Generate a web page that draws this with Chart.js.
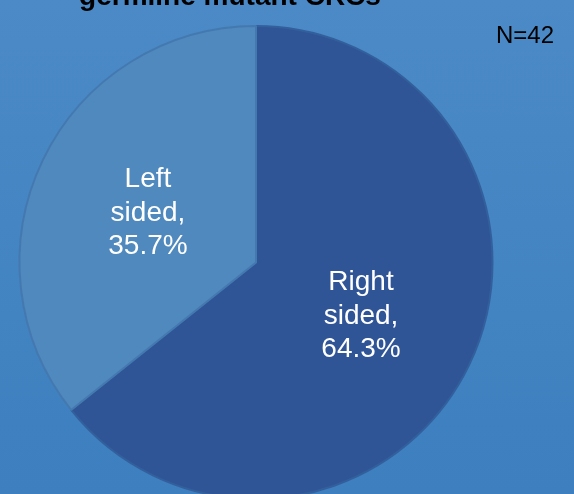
<!DOCTYPE html>
<html>
<head>
<meta charset="utf-8">
<script src="https://cdn.jsdelivr.net/npm/chart.js@4"></script>
<style>
  html, body { margin: 0; padding: 0; overflow: hidden; }
  body { width: 574px; height: 494px; background: linear-gradient(#4b8ac6, #3d7fbf); }
  #wrap { position: relative; width: 574px; height: 520px; }
</style>
</head>
<body>
<div id="wrap"><canvas id="myChart" width="574" height="520"></canvas></div>
<script>
const labels = ['Right sided', 'Left sided'];
const counts = [27, 15];
const percents = ['64.3%', '35.7%'];
const titleText = 'germline mutant CRCs';
const nText = 'N=42';

const ctx = document.getElementById('myChart').getContext('2d');

// draws the cut off title, the N label and the slice labels
const textPlugin = {
  id: 'textPlugin',
  afterDraw(chart) {
    const c = chart.ctx;
    c.save();
    c.fillStyle = '#000';
    c.textAlign = 'center';
    c.textBaseline = 'alphabetic';
    c.font = 'bold 28px "Liberation Sans", Arial, sans-serif';
    c.fillText(titleText, 230, 5);
    c.textAlign = 'left';
    c.font = '24px "Liberation Sans", Arial, sans-serif';
    c.fillText(nText, 496, 43);

    c.fillStyle = '#fff';
    c.textAlign = 'center';
    c.textBaseline = 'middle';
    c.font = '28px "Liberation Sans", Arial, sans-serif';
    const meta = chart.getDatasetMeta(0);
    meta.data.forEach((arc, i) => {
      const p = arc.getCenterPoint();
      const words = labels[i].split(' ');
      const lines = [words[0], words[1] + ',', percents[i]];
      lines.forEach((t, j) => {
        c.fillText(t, p.x - 1.5, p.y + 2 + (j - 1) * 33.5);
      });
    });
    c.restore();
  }
};

const myChart = new Chart(ctx, {
  type: 'pie',
  data: {
    labels: labels,
    datasets: [{
      data: counts,
      backgroundColor: ['#2f5597', '#5089bd'],
      borderColor: ['#33609c', '#4479b0'],
      borderWidth: 2
    }]
  },
  options: {
    responsive: false,
    animation: false,
    layout: { padding: { left: 18, right: 80, top: 25, bottom: 20 } },
    plugins: {
      legend: { display: false },
      tooltip: { enabled: false }
    }
  },
  plugins: [textPlugin]
});
</script>
</body>
</html>
